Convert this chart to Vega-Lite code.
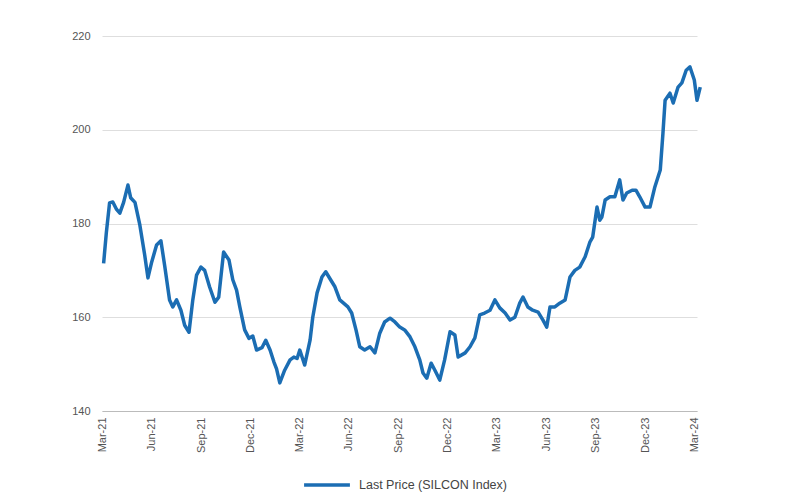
{
  "$schema": "https://vega.github.io/schema/vega-lite/v6.json",
  "width": 595,
  "height": 375,
  "autosize": "none",
  "padding": {"left": 102, "top": 36, "right": 101, "bottom": 90},
  "background": "white",
  "config": {"view": {"stroke": null}, "font": "Liberation Sans"},
  "data": {"values": [
    {"date": "2021-03-04", "price": 171.5, "series": "Last Price (SILCON Index)"},
    {"date": "2021-03-09", "price": 178.0, "series": "Last Price (SILCON Index)"},
    {"date": "2021-03-15", "price": 184.4, "series": "Last Price (SILCON Index)"},
    {"date": "2021-03-21", "price": 184.6, "series": "Last Price (SILCON Index)"},
    {"date": "2021-03-28", "price": 183.0, "series": "Last Price (SILCON Index)"},
    {"date": "2021-04-03", "price": 182.2, "series": "Last Price (SILCON Index)"},
    {"date": "2021-04-10", "price": 184.5, "series": "Last Price (SILCON Index)"},
    {"date": "2021-04-18", "price": 188.2, "series": "Last Price (SILCON Index)"},
    {"date": "2021-04-23", "price": 185.5, "series": "Last Price (SILCON Index)"},
    {"date": "2021-05-01", "price": 184.5, "series": "Last Price (SILCON Index)"},
    {"date": "2021-05-10", "price": 179.7, "series": "Last Price (SILCON Index)"},
    {"date": "2021-05-19", "price": 173.3, "series": "Last Price (SILCON Index)"},
    {"date": "2021-05-25", "price": 168.4, "series": "Last Price (SILCON Index)"},
    {"date": "2021-06-01", "price": 171.8, "series": "Last Price (SILCON Index)"},
    {"date": "2021-06-10", "price": 175.4, "series": "Last Price (SILCON Index)"},
    {"date": "2021-06-18", "price": 176.3, "series": "Last Price (SILCON Index)"},
    {"date": "2021-06-25", "price": 171.0, "series": "Last Price (SILCON Index)"},
    {"date": "2021-07-04", "price": 163.7, "series": "Last Price (SILCON Index)"},
    {"date": "2021-07-10", "price": 162.2, "series": "Last Price (SILCON Index)"},
    {"date": "2021-07-17", "price": 163.7, "series": "Last Price (SILCON Index)"},
    {"date": "2021-07-25", "price": 161.5, "series": "Last Price (SILCON Index)"},
    {"date": "2021-08-01", "price": 158.3, "series": "Last Price (SILCON Index)"},
    {"date": "2021-08-09", "price": 156.8, "series": "Last Price (SILCON Index)"},
    {"date": "2021-08-16", "price": 163.7, "series": "Last Price (SILCON Index)"},
    {"date": "2021-08-23", "price": 169.0, "series": "Last Price (SILCON Index)"},
    {"date": "2021-08-31", "price": 170.7, "series": "Last Price (SILCON Index)"},
    {"date": "2021-09-07", "price": 170.0, "series": "Last Price (SILCON Index)"},
    {"date": "2021-09-16", "price": 166.5, "series": "Last Price (SILCON Index)"},
    {"date": "2021-09-26", "price": 163.2, "series": "Last Price (SILCON Index)"},
    {"date": "2021-10-03", "price": 164.3, "series": "Last Price (SILCON Index)"},
    {"date": "2021-10-12", "price": 173.9, "series": "Last Price (SILCON Index)"},
    {"date": "2021-10-22", "price": 172.2, "series": "Last Price (SILCON Index)"},
    {"date": "2021-10-29", "price": 168.0, "series": "Last Price (SILCON Index)"},
    {"date": "2021-11-05", "price": 165.8, "series": "Last Price (SILCON Index)"},
    {"date": "2021-11-11", "price": 162.2, "series": "Last Price (SILCON Index)"},
    {"date": "2021-11-20", "price": 157.3, "series": "Last Price (SILCON Index)"},
    {"date": "2021-11-28", "price": 155.5, "series": "Last Price (SILCON Index)"},
    {"date": "2021-12-05", "price": 156.0, "series": "Last Price (SILCON Index)"},
    {"date": "2021-12-12", "price": 153.0, "series": "Last Price (SILCON Index)"},
    {"date": "2021-12-22", "price": 153.5, "series": "Last Price (SILCON Index)"},
    {"date": "2021-12-29", "price": 155.1, "series": "Last Price (SILCON Index)"},
    {"date": "2022-01-06", "price": 153.0, "series": "Last Price (SILCON Index)"},
    {"date": "2022-01-13", "price": 150.5, "series": "Last Price (SILCON Index)"},
    {"date": "2022-01-18", "price": 149.0, "series": "Last Price (SILCON Index)"},
    {"date": "2022-01-24", "price": 146.0, "series": "Last Price (SILCON Index)"},
    {"date": "2022-02-02", "price": 148.7, "series": "Last Price (SILCON Index)"},
    {"date": "2022-02-12", "price": 150.9, "series": "Last Price (SILCON Index)"},
    {"date": "2022-02-19", "price": 151.5, "series": "Last Price (SILCON Index)"},
    {"date": "2022-02-25", "price": 151.2, "series": "Last Price (SILCON Index)"},
    {"date": "2022-03-02", "price": 153.0, "series": "Last Price (SILCON Index)"},
    {"date": "2022-03-11", "price": 149.8, "series": "Last Price (SILCON Index)"},
    {"date": "2022-03-21", "price": 155.1, "series": "Last Price (SILCON Index)"},
    {"date": "2022-03-26", "price": 160.0, "series": "Last Price (SILCON Index)"},
    {"date": "2022-04-03", "price": 165.2, "series": "Last Price (SILCON Index)"},
    {"date": "2022-04-12", "price": 168.6, "series": "Last Price (SILCON Index)"},
    {"date": "2022-04-19", "price": 169.7, "series": "Last Price (SILCON Index)"},
    {"date": "2022-04-28", "price": 168.0, "series": "Last Price (SILCON Index)"},
    {"date": "2022-05-06", "price": 166.5, "series": "Last Price (SILCON Index)"},
    {"date": "2022-05-15", "price": 163.7, "series": "Last Price (SILCON Index)"},
    {"date": "2022-05-22", "price": 163.0, "series": "Last Price (SILCON Index)"},
    {"date": "2022-05-30", "price": 162.2, "series": "Last Price (SILCON Index)"},
    {"date": "2022-06-06", "price": 160.9, "series": "Last Price (SILCON Index)"},
    {"date": "2022-06-14", "price": 157.3, "series": "Last Price (SILCON Index)"},
    {"date": "2022-06-21", "price": 153.7, "series": "Last Price (SILCON Index)"},
    {"date": "2022-06-30", "price": 153.0, "series": "Last Price (SILCON Index)"},
    {"date": "2022-07-10", "price": 153.7, "series": "Last Price (SILCON Index)"},
    {"date": "2022-07-19", "price": 152.4, "series": "Last Price (SILCON Index)"},
    {"date": "2022-07-28", "price": 156.6, "series": "Last Price (SILCON Index)"},
    {"date": "2022-08-06", "price": 159.0, "series": "Last Price (SILCON Index)"},
    {"date": "2022-08-16", "price": 159.8, "series": "Last Price (SILCON Index)"},
    {"date": "2022-08-25", "price": 159.0, "series": "Last Price (SILCON Index)"},
    {"date": "2022-09-03", "price": 157.9, "series": "Last Price (SILCON Index)"},
    {"date": "2022-09-12", "price": 157.3, "series": "Last Price (SILCON Index)"},
    {"date": "2022-09-22", "price": 155.8, "series": "Last Price (SILCON Index)"},
    {"date": "2022-10-01", "price": 153.7, "series": "Last Price (SILCON Index)"},
    {"date": "2022-10-10", "price": 150.9, "series": "Last Price (SILCON Index)"},
    {"date": "2022-10-16", "price": 148.1, "series": "Last Price (SILCON Index)"},
    {"date": "2022-10-23", "price": 147.0, "series": "Last Price (SILCON Index)"},
    {"date": "2022-10-31", "price": 150.2, "series": "Last Price (SILCON Index)"},
    {"date": "2022-11-07", "price": 148.7, "series": "Last Price (SILCON Index)"},
    {"date": "2022-11-16", "price": 146.6, "series": "Last Price (SILCON Index)"},
    {"date": "2022-11-25", "price": 150.9, "series": "Last Price (SILCON Index)"},
    {"date": "2022-12-05", "price": 156.9, "series": "Last Price (SILCON Index)"},
    {"date": "2022-12-14", "price": 156.2, "series": "Last Price (SILCON Index)"},
    {"date": "2022-12-20", "price": 151.5, "series": "Last Price (SILCON Index)"},
    {"date": "2023-01-02", "price": 152.4, "series": "Last Price (SILCON Index)"},
    {"date": "2023-01-11", "price": 153.7, "series": "Last Price (SILCON Index)"},
    {"date": "2023-01-20", "price": 155.6, "series": "Last Price (SILCON Index)"},
    {"date": "2023-01-29", "price": 160.5, "series": "Last Price (SILCON Index)"},
    {"date": "2023-02-07", "price": 160.9, "series": "Last Price (SILCON Index)"},
    {"date": "2023-02-17", "price": 161.5, "series": "Last Price (SILCON Index)"},
    {"date": "2023-02-26", "price": 163.7, "series": "Last Price (SILCON Index)"},
    {"date": "2023-03-07", "price": 162.0, "series": "Last Price (SILCON Index)"},
    {"date": "2023-03-17", "price": 160.9, "series": "Last Price (SILCON Index)"},
    {"date": "2023-03-26", "price": 159.4, "series": "Last Price (SILCON Index)"},
    {"date": "2023-04-04", "price": 160.0, "series": "Last Price (SILCON Index)"},
    {"date": "2023-04-13", "price": 163.0, "series": "Last Price (SILCON Index)"},
    {"date": "2023-04-19", "price": 164.3, "series": "Last Price (SILCON Index)"},
    {"date": "2023-04-28", "price": 162.2, "series": "Last Price (SILCON Index)"},
    {"date": "2023-05-07", "price": 161.5, "series": "Last Price (SILCON Index)"},
    {"date": "2023-05-17", "price": 161.1, "series": "Last Price (SILCON Index)"},
    {"date": "2023-05-26", "price": 159.4, "series": "Last Price (SILCON Index)"},
    {"date": "2023-06-02", "price": 157.9, "series": "Last Price (SILCON Index)"},
    {"date": "2023-06-08", "price": 162.2, "series": "Last Price (SILCON Index)"},
    {"date": "2023-06-17", "price": 162.2, "series": "Last Price (SILCON Index)"},
    {"date": "2023-06-26", "price": 163.0, "series": "Last Price (SILCON Index)"},
    {"date": "2023-07-06", "price": 163.7, "series": "Last Price (SILCON Index)"},
    {"date": "2023-07-15", "price": 168.6, "series": "Last Price (SILCON Index)"},
    {"date": "2023-07-24", "price": 170.0, "series": "Last Price (SILCON Index)"},
    {"date": "2023-08-02", "price": 170.7, "series": "Last Price (SILCON Index)"},
    {"date": "2023-08-12", "price": 172.9, "series": "Last Price (SILCON Index)"},
    {"date": "2023-08-21", "price": 176.1, "series": "Last Price (SILCON Index)"},
    {"date": "2023-08-26", "price": 177.1, "series": "Last Price (SILCON Index)"},
    {"date": "2023-09-03", "price": 183.5, "series": "Last Price (SILCON Index)"},
    {"date": "2023-09-08", "price": 180.7, "series": "Last Price (SILCON Index)"},
    {"date": "2023-09-12", "price": 181.4, "series": "Last Price (SILCON Index)"},
    {"date": "2023-09-18", "price": 185.0, "series": "Last Price (SILCON Index)"},
    {"date": "2023-09-27", "price": 185.7, "series": "Last Price (SILCON Index)"},
    {"date": "2023-10-06", "price": 185.7, "series": "Last Price (SILCON Index)"},
    {"date": "2023-10-15", "price": 189.3, "series": "Last Price (SILCON Index)"},
    {"date": "2023-10-21", "price": 185.0, "series": "Last Price (SILCON Index)"},
    {"date": "2023-10-28", "price": 186.5, "series": "Last Price (SILCON Index)"},
    {"date": "2023-11-07", "price": 187.1, "series": "Last Price (SILCON Index)"},
    {"date": "2023-11-14", "price": 187.1, "series": "Last Price (SILCON Index)"},
    {"date": "2023-11-21", "price": 185.7, "series": "Last Price (SILCON Index)"},
    {"date": "2023-12-01", "price": 183.5, "series": "Last Price (SILCON Index)"},
    {"date": "2023-12-10", "price": 183.5, "series": "Last Price (SILCON Index)"},
    {"date": "2023-12-19", "price": 187.8, "series": "Last Price (SILCON Index)"},
    {"date": "2023-12-29", "price": 191.4, "series": "Last Price (SILCON Index)"},
    {"date": "2024-01-03", "price": 199.3, "series": "Last Price (SILCON Index)"},
    {"date": "2024-01-07", "price": 206.3, "series": "Last Price (SILCON Index)"},
    {"date": "2024-01-16", "price": 207.8, "series": "Last Price (SILCON Index)"},
    {"date": "2024-01-22", "price": 205.7, "series": "Last Price (SILCON Index)"},
    {"date": "2024-01-31", "price": 209.1, "series": "Last Price (SILCON Index)"},
    {"date": "2024-02-07", "price": 210.0, "series": "Last Price (SILCON Index)"},
    {"date": "2024-02-15", "price": 212.7, "series": "Last Price (SILCON Index)"},
    {"date": "2024-02-22", "price": 213.4, "series": "Last Price (SILCON Index)"},
    {"date": "2024-03-01", "price": 210.6, "series": "Last Price (SILCON Index)"},
    {"date": "2024-03-06", "price": 206.3, "series": "Last Price (SILCON Index)"},
    {"date": "2024-03-12", "price": 209.1, "series": "Last Price (SILCON Index)"}
  ]},
  "mark": {"type": "line", "strokeWidth": 3.5, "strokeJoin": "round", "clip": false},
  "encoding": {
    "x": {
      "field": "date", "type": "temporal",
      "scale": {"domain": ["2021-03-01", "2024-03-06"]},
      "axis": {
        "title": null,
        "values": ["2021-03-01", "2021-06-01", "2021-09-01", "2021-12-01", "2022-03-01", "2022-06-01", "2022-09-01", "2022-12-01", "2023-03-01", "2023-06-01", "2023-09-01", "2023-12-01", "2024-03-01"],
        "format": "%b-%y",
        "labelAngle": -90,
        "labelAlign": "right",
        "labelBaseline": "middle",
        "labelFontSize": 11,
        "labelColor": "#555555",
        "labelPadding": 6,
        "ticks": false,
        "grid": false,
        "domainColor": "#bbbbbb",
        "domainWidth": 1,
        "labelOverlap": false
      }
    },
    "y": {
      "field": "price", "type": "quantitative",
      "scale": {"domain": [140, 220], "nice": false, "zero": false},
      "axis": {
        "title": null,
        "values": [140, 160, 180, 200, 220],
        "labelFontSize": 11,
        "labelColor": "#555555",
        "labelPadding": 12,
        "ticks": false,
        "domain": false,
        "grid": true,
        "gridColor": "#dedede",
        "gridWidth": 1
      }
    },
    "color": {
      "field": "series", "type": "nominal",
      "scale": {"range": ["#1b6db3"]},
      "legend": {
        "title": null,
        "orient": "none",
        "legendX": 200,
        "legendY": 424,
        "symbolType": "stroke",
        "symbolSize": 2100,
        "symbolStrokeWidth": 3.5,
        "labelFontSize": 12.5,
        "labelOffset": 7,
        "labelColor": "#444444"
      }
    }
  }
}
